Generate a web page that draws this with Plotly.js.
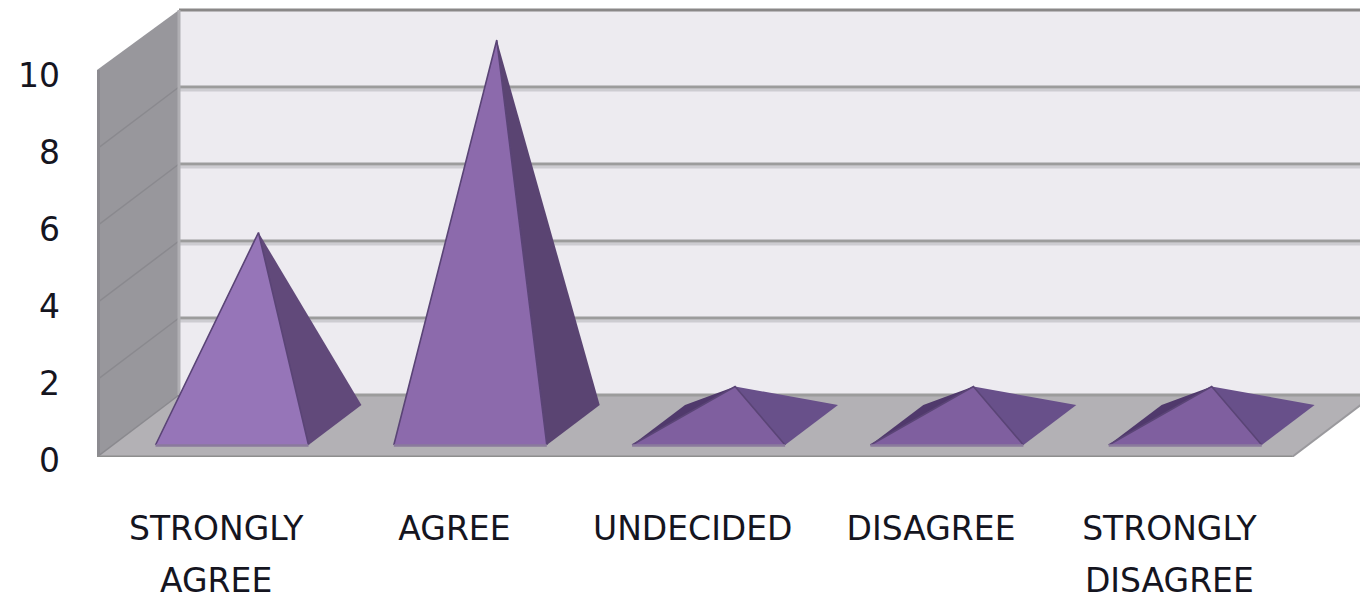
<!DOCTYPE html>
<html>
<head>
<meta charset="utf-8">
<script src="https://cdn.plot.ly/plotly-3.0.1.min.js"></script>
<style>html,body{margin:0;padding:0;background:#fff}#chart{width:1360px;height:594px}
.ytick text{translate:0 3px}</style>
</head>
<body>
<div id="chart"></div>
<script>
const labelLine1 = ['STRONGLY', 'AGREE', 'UNDECIDED', 'DISAGREE', 'STRONGLY'];
const labelLine2 = ['AGREE', '', '', '', 'DISAGREE'];
const values = [5, 10, 1, 1, 1];
const valueTicks = [0, 2, 4, 6, 8, 10];

const frontFill = ['#9675B8', '#8C6AAC', '#7F5F9F', '#7F5F9F', '#7F5F9F'];
const rightFill = ['#61497A', '#5A4472', '#68508A', '#68508A', '#68508A'];
const leftFill = '#50396C';
const edgeDark = '#5A4476';

const catCount = labelLine1.length;
const pxPerCat = 238.3, pxPerUnit = 38.5;
const plotW = 1360 - 97, plotH = 457;
const xMin = -0.5, xMax = xMin + plotW / pxPerCat, yMax = plotH / pxPerUnit;
// oblique projection of the 3D box: depth 0 = front plane, depth 1 = back wall
const depthX = 82 / pxPerCat, depthY = 62 / pxPerUnit;
const px = (x, d) => x + d * depthX;
const py = (v, d) => v + d * depthY;
const offX = (p) => p / pxPerCat;
const offY = (p) => p / pxPerUnit;
const wallEnd = catCount - 0.5 + offX(3.5);
const yTop = valueTicks[valueTicks.length - 1];

const traces = [];
function poly(xs, ys, fill) {
  traces.push({x: xs, y: ys, mode: 'lines', fill: 'toself', fillcolor: fill,
    line: {width: 0, color: fill}, hoverinfo: 'skip', showlegend: false});
}
function seg(xs, ys, color, width, extra) {
  traces.push(Object.assign({x: xs, y: ys, mode: 'lines', line: {color: color, width: width},
    hoverinfo: 'skip', showlegend: false}, extra || {}));
}

// back wall
poly([px(xMin,1), px(wallEnd,1), px(wallEnd,1), px(xMin,1), px(xMin,1)],
     [py(0,1), py(0,1), py(yTop,1), py(yTop,1), py(0,1)], '#EDEBF0');
// floor
poly([xMin, wallEnd, px(wallEnd,1), px(xMin,1), xMin],
     [py(0,0), py(0,0), py(0,1), py(0,1), py(0,0)], '#B3B1B5');
// back-wall gridlines
valueTicks.forEach(v => {
  if (v > 0 && v < yTop) seg([px(xMin,1), px(wallEnd,1)], [py(v,1) - offY(3), py(v,1) - offY(3)], '#CDCCD1', 3);
  seg([px(xMin,1), px(wallEnd,1)], [py(v,1), py(v,1)], v === yTop ? '#8A8888' : '#9C9C9C', 3);
});
// left wall (its front top corner sits 2px above the value scale in the reference)
const wallTop = py(yTop, 0) + offY(2);
poly([xMin, px(xMin,1), px(xMin,1), xMin, xMin],
     [py(0,0), py(0,1), py(yTop,1), wallTop, py(0,0)], '#98979C');
valueTicks.forEach(v => {
  if (v < yTop) seg([xMin, px(xMin,1)], [py(v,0), py(v,1)], '#8A898E', 1.5);
});
seg([px(xMin,1), px(xMin,1)], [py(0,1), py(yTop,1)], '#B0AFB3', 3);
seg([xMin, xMin], [py(0,0), wallTop], '#8C8B90', 6);
seg([xMin - offX(1.5), xMin - offX(1.5)], [py(0,0) - offY(4), wallTop], '#E0E0E0', 3, {cliponaxis: false});
// floor front edge, right edge
seg([xMin, wallEnd], [py(0,0) - offY(3), py(0,0) - offY(3)], '#E0E0E0', 3, {cliponaxis: false});
seg([xMin, wallEnd], [py(0,0), py(0,0)], '#8E8E8E', 3, {xaxis: 'x2'});
seg([wallEnd, px(wallEnd,1)], [py(0,0), py(0,1)], '#9A999D', 2);

// pyramids
const halfW = 76.5 / pxPerCat, d0 = 12 / 62, d1 = 52 / 62, dMid = (d0 + d1) / 2;
values.forEach((v, i) => {
  const fl = [px(i - halfW, d0), py(0, d0)], fr = [px(i + halfW, d0), py(0, d0)];
  const bl = [px(i - halfW, d1), py(0, d1)], br = [px(i + halfW, d1), py(0, d1)];
  const ap = [px(i, dMid), py(v, dMid)];
  poly([fl[0], bl[0], ap[0], fl[0]], [fl[1], bl[1], ap[1], fl[1]], leftFill);
  poly([fr[0], br[0], ap[0], fr[0]], [fr[1], br[1], ap[1], fr[1]], rightFill[i]);
  poly([fl[0], fr[0], ap[0], fl[0]], [fl[1], fr[1], ap[1], fl[1]], frontFill[i]);
  seg([fl[0], ap[0], fr[0]], [fl[1], ap[1], fr[1]], edgeDark, 1.6);
  seg([fl[0], fr[0]], [fl[1] - offY(0.5), fr[1] - offY(0.5)], '#8A7A9C', 2.5);
});

const tickFont = {family: 'DejaVu Sans, sans-serif', size: 33, color: '#15151f'};
const tickCats = labelLine1.map((_, i) => i);
const baseX = {range: [xMin, xMax], showgrid: false, zeroline: false, showline: false,
  ticks: '', tickmode: 'array', tickvals: tickCats, tickfont: tickFont, fixedrange: true,
  automargin: false, tickangle: 0, ticklabeloverflow: 'allow'};

const layout = {
  width: 1360, height: 594,
  margin: {l: 97, r: 0, t: 0, b: 137},
  paper_bgcolor: '#fff', plot_bgcolor: 'rgba(0,0,0,0)',
  showlegend: false,
  xaxis: Object.assign({}, baseX, {ticktext: labelLine1, ticklabelstandoff: 49}),
  xaxis2: Object.assign({}, baseX, {ticktext: labelLine2, ticklabelstandoff: 101, overlaying: 'x', anchor: 'y', side: 'bottom'}),
  yaxis: {range: [0, yMax], tickmode: 'array', tickvals: valueTicks, ticktext: valueTicks.map(String),
    tickfont: tickFont, showgrid: false, zeroline: false, showline: false, ticks: '',
    ticklabelstandoff: 36, fixedrange: true, automargin: false, ticklabeloverflow: 'allow'}
};
Plotly.newPlot('chart', traces, layout, {staticPlot: true, displayModeBar: false});
</script>
</body>
</html>
